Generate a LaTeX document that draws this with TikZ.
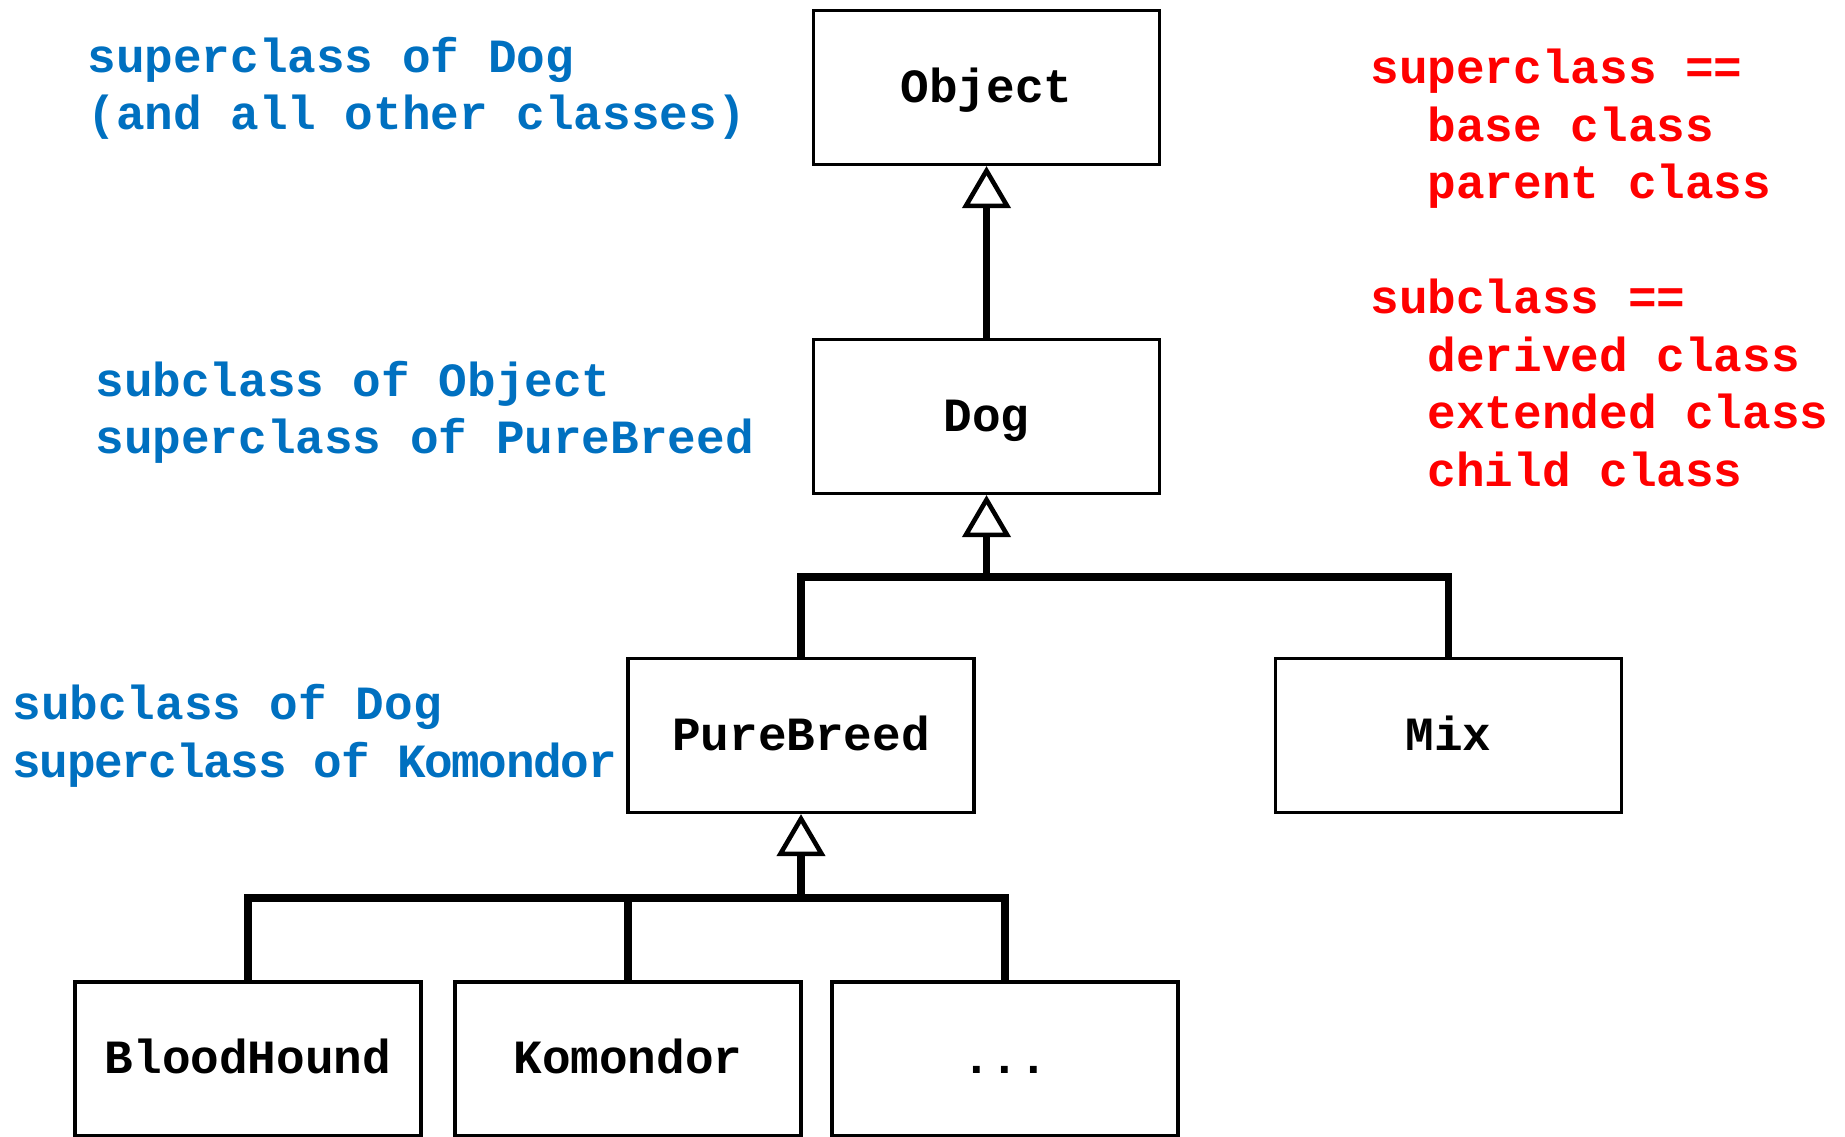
\documentclass[tikz,border=0pt]{standalone}
\usepackage{fontspec}
\setmonofont{Liberation Mono}
\usetikzlibrary{arrows.meta}
\definecolor{noteblue}{HTML}{0070C0}
\definecolor{notered}{HTML}{FF0000}

\begin{document}
\begin{tikzpicture}[x=50pt, y=50pt,
  cls/.style={draw, line width=1.6pt, inner sep=0pt, minimum width=173pt, minimum height=77pt,
    text height=19.6pt, text depth=5pt,
    font=\ttfamily\bfseries\fontsize{23.85}{28.75}\selectfont},
  link/.style={line width=3.8pt},
  isa/.style={line width=3.8pt, -{Triangle[open, length=21pt, width=24pt, line width=2.3pt]}},
  note/.style={anchor=west, align=left, inner sep=0pt,
    font=\ttfamily\bfseries\fontsize{23.85}{28.75}\selectfont}]
  \clip (0, 0) rectangle (18.45, -11.36);

  \node[cls] (object) at (9.865, -0.875) {Object};
  \node[cls] (dog) at (9.865, -4.165) {Dog};
  \draw[isa] (dog.north) -- (object.south);

  \node[cls] (purebreed) at (8.01, -7.355) {PureBreed};
  \node[cls] (mix) at (14.485, -7.355) {Mix};
  \coordinate (dogbar) at (9.865, -5.77);
  \draw[link] (purebreed.north) -- (purebreed.north |- dogbar) -- (mix.north |- dogbar) -- (mix.north);
  \draw[isa] (dogbar) -- (dog.south);

  \node[cls] (bloodhound) at (2.48, -10.59) {BloodHound};
  \node[cls] (komondor) at (6.28, -10.59) {Komondor};
  \node[cls] (more) at (10.05, -10.59) {...};
  \coordinate (purebar) at (8.01, -8.98);
  \draw[link] (bloodhound.north) -- (bloodhound.north |- purebar) -- (more.north |- purebar) -- (more.north);
  \draw[link] (komondor.north) -- (komondor.north |- purebar);
  \draw[isa] (purebar) -- (purebreed.south);

  \node[note, text=noteblue] (objectnote) at (0.87, -0.885) {superclass of Dog\\(and all other classes)};
  \node[note, text=noteblue] (dognote) at (0.95, -4.125) {subclass of Object\\superclass of PureBreed};
  \node[note, text=noteblue] (purenote) at (0.12, -7.36) {subclass of Dog\\{\addfontfeature{LetterSpace=-2.8}superclass of Komondor}};

  \node[note, text=notered] (terms) at (13.70, -2.68) {superclass ==\\\phantom{xx}base class\\\phantom{xx}parent class\\[28.75pt]subclass ==\\\phantom{xx}derived class\\\phantom{xx}extended class\\\phantom{xx}child class};
\end{tikzpicture}
\end{document}
